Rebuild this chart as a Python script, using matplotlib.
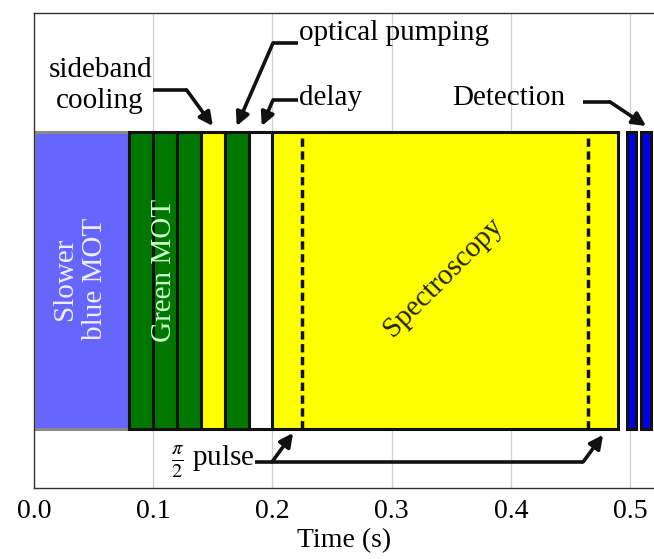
import matplotlib
matplotlib.use('Agg')
import matplotlib.pyplot as plt

plt.rcParams['font.family'] = ['Liberation Serif', 'DejaVu Serif']
plt.rcParams['mathtext.fontset'] = 'stix'

# sequence phases: (start, end) in seconds and the kind of light used
phase_start = [0.0, 0.08, 0.10, 0.12, 0.14, 0.16, 0.18, 0.20, 0.497, 0.509]
phase_end = [0.08, 0.10, 0.12, 0.14, 0.16, 0.18, 0.20, 0.49, 0.505, 0.5175]
phase_kind = ['blue MOT', 'green', 'green', 'green', 'clock', 'green', 'dark',
              'clock', 'detect', 'detect']

pulse_times = [0.225, 0.465]          # dashed lines, ends of the pi/2 pulses
xticks = [0.0, 0.1, 0.2, 0.3, 0.4, 0.5]
xtick_labels = ['0.0', '0.1', '0.2', '0.3', '0.4', '0.5']

colors = {'blue MOT': '#6666ff', 'green': '#007800', 'clock': '#ffff00',
          'dark': 'white', 'detect': '#0000ee'}

bar_lo, bar_hi = 0.125, 0.75
fs = 21      # annotation text
fs_ax = 20   # ticks and axis label

fig = plt.figure(figsize=(6.54, 5.59), dpi=100)
ax = fig.add_axes([34 / 654, 71 / 559, 620 / 654, 475 / 559])

for s, e, k in zip(phase_start, phase_end, phase_kind):
    if k == 'blue MOT':
        ax.bar(s, bar_hi - bar_lo, width=e - s, bottom=bar_lo, align='edge',
               color=colors[k], edgecolor='#8a8a8a', linewidth=2.2, zorder=2)
    else:
        ax.bar(s, bar_hi - bar_lo, width=e - s, bottom=bar_lo, align='edge',
               color=colors[k], edgecolor='#111111', linewidth=2.2, zorder=3)

for t in pulse_times:
    ax.plot([t, t], [bar_lo, bar_hi], color='#111111', lw=2.5,
            dashes=(2.4, 1.3), zorder=4)

# labels inside the bars
ax.text(0.0386, 0.44, 'Slower\nblue MOT', rotation=90, ha='center', va='center',
        multialignment='center', color='#eeeeff', fontsize=fs, zorder=5)
ax.text(0.109, 0.457, 'Green MOT', rotation=90, ha='center', va='center',
        color='#ccffcc', fontsize=fs, zorder=5)
ax.text(0.343, 0.444, 'Spectroscopy', rotation=45, ha='center', va='center',
        color='#222200', fontsize=fs, zorder=5)

# callouts
arrow_kw = dict(arrowstyle='-|>', lw=2.6, color='#111111', mutation_scale=20,
                shrinkA=0, shrinkB=0)


def callout(path):
    xs = [p[0] for p in path]
    ys = [p[1] for p in path]
    ax.plot(xs[:-1], ys[:-1], color='#111111', lw=2.6, zorder=6,
            solid_capstyle='butt', solid_joinstyle='miter')
    ax.annotate('', xy=path[-1], xytext=path[-2], arrowprops=arrow_kw, zorder=6)


ax.text(0.0555, 0.848, 'sideband\ncooling', ha='center', va='center',
        multialignment='center', fontsize=fs, linespacing=1.25)
callout([(0.0995, 0.838), (0.128, 0.838), (0.150, 0.762)])

ax.text(0.222, 0.957, 'optical pumping', ha='left', va='center', fontsize=fs)
callout([(0.2215, 0.937), (0.2005, 0.937), (0.170, 0.762)])

ax.text(0.222, 0.822, 'delay', ha='left', va='center', fontsize=fs)
callout([(0.2215, 0.817), (0.2005, 0.817), (0.191, 0.762)])

ax.text(0.446, 0.822, 'Detection', ha='right', va='center', fontsize=fs)
callout([(0.4606, 0.813), (0.483, 0.813), (0.5134, 0.762)])

ax.text(0.185, 0.055, r'$\frac{\pi}{2}$ pulse', ha='right', va='center',
        fontsize=fs)
ax.plot([0.185, 0.4606], [0.055, 0.055], color='#111111', lw=2.6, zorder=6,
        solid_capstyle='butt')
ax.annotate('', xy=(0.2173, 0.116), xytext=(0.1997, 0.055), arrowprops=arrow_kw)
ax.annotate('', xy=(0.4773, 0.112), xytext=(0.4606, 0.055), arrowprops=arrow_kw)

ax.set_xlim(0, 0.52)
ax.set_ylim(0, 1)
ax.set_xticks(xticks)
ax.set_xticklabels(xtick_labels, fontsize=fs_ax)
ax.set_yticks([])
ax.tick_params(axis='x', length=0, pad=8)
ax.set_xlabel('Time (s)', fontsize=fs_ax, labelpad=3)
ax.grid(axis='x', color='#d0d0d0', lw=0.9, zorder=0)
ax.set_axisbelow(True)
for side in ['top', 'left', 'bottom']:
    ax.spines[side].set_color('#333333')
    ax.spines[side].set_linewidth(1.0)
ax.spines['right'].set_visible(False)

plt.savefig('out.png', dpi=100)
